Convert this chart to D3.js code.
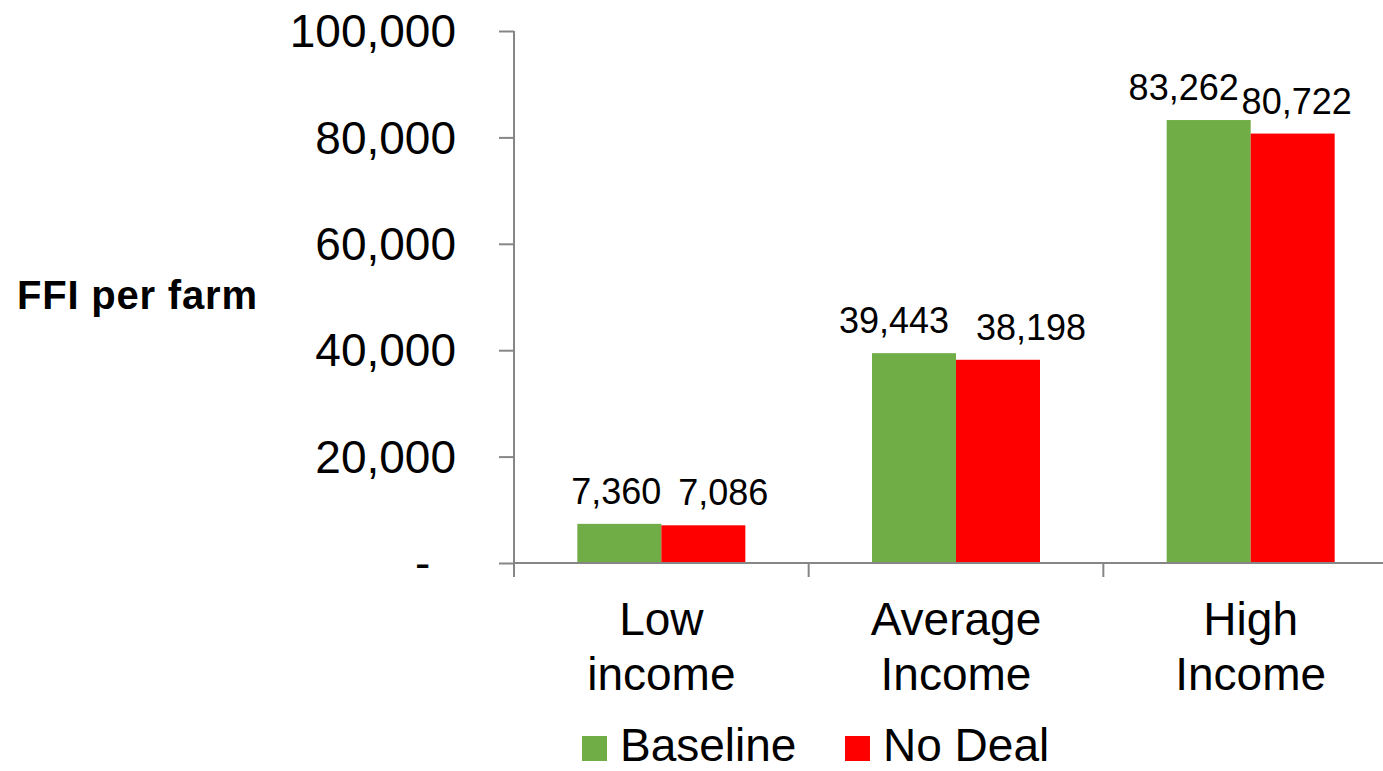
<!DOCTYPE html>
<html>
<head>
<meta charset="utf-8">
<script src="https://cdn.jsdelivr.net/npm/d3@7/dist/d3.min.js"></script>
<style>
  html, body { margin: 0; padding: 0; background: #fff; }
  svg { display: block; font-family: "Liberation Sans", Arial, Helvetica, sans-serif; }
</style>
</head>
<body>
<svg id="chart" width="1383" height="771"></svg>
<script>
// Farm family income per farm, by income group
const categories = [["Low", "income"], ["Average", "Income"], ["High", "Income"]];
const seriesNames = ["Baseline", "No Deal"];
const baseline = [7360, 39443, 83262];
const noDeal = [7086, 38198, 80722];
const yTicks = [0, 20000, 40000, 60000, 80000, 100000];
const yTitle = "FFI per farm";

const colors = { "Baseline": "#70AD47", "No Deal": "#FF0000" };
const axisColor = "#868686";

const svg = d3.select("#chart");
const W = 1383, H = 771;

const plot = { left: 514, top: 31, bottom: 563 };
const step = 294.67;
const catKeys = categories.map(c => c.join(" "));

const x0 = d3.scaleBand()
  .domain(catKeys)
  .range([plot.left, plot.left + step * catKeys.length])
  .padding(0);

const x1 = d3.scaleBand()
  .domain(seriesNames)
  .range([0, x0.bandwidth()])
  .paddingInner(0)
  .paddingOuter(0.754);

const y = d3.scaleLinear().domain([0, 100000]).range([plot.bottom, plot.top]);

const rows = catKeys.map((k, i) => ({
  key: k,
  values: [
    { series: "Baseline", value: baseline[i] },
    { series: "No Deal", value: noDeal[i] }
  ]
}));

// Bars
const groups = svg.append("g").selectAll("g")
  .data(rows).join("g")
  .attr("transform", d => `translate(${x0(d.key)},0)`);

groups.selectAll("rect")
  .data(d => d.values).join("rect")
  .attr("x", d => x1(d.series))
  .attr("y", d => y(d.value))
  .attr("width", x1.bandwidth())
  .attr("height", d => y(0) - y(d.value))
  .attr("fill", d => colors[d.series]);

// Value labels, nudged sideways so neighbouring labels don't collide
const labelShift = {
  "Baseline": [-3, -20, -25],
  "No Deal": [20, 33, 4]
};
const fmt = d3.format(",");
groups.each(function (row, ci) {
  d3.select(this).selectAll("text.val")
    .data(row.values).join("text")
    .attr("class", "val")
    .attr("x", d => x1(d.series) + x1.bandwidth() / 2 + labelShift[d.series][ci])
    .attr("y", d => y(d.value) - 20)
    .attr("text-anchor", "middle")
    .attr("font-size", 36)
    .attr("fill", "#000")
    .text(d => fmt(d.value));
});

// Y axis
const yAxis = d3.axisLeft(y)
  .tickValues(yTicks)
  .tickSize(15)
  .tickPadding(43)
  .tickFormat(d => d === 0 ? "-" : fmt(d));

const gy = svg.append("g")
  .attr("transform", `translate(${plot.left},0)`)
  .call(yAxis);
gy.select(".domain").attr("stroke", axisColor).attr("stroke-width", 2)
  .attr("d", `M0,${plot.top}V${plot.bottom}`);
gy.selectAll(".tick line").attr("stroke", axisColor).attr("stroke-width", 2);
gy.selectAll(".tick text")
  .attr("font-size", 46)
  .attr("font-family", "'Liberation Sans', Arial, sans-serif")
  .attr("fill", "#000")
  .attr("dy", "0.34em")
  .attr("dx", d => d === 0 ? "-0.556em" : 0);

// X axis: baseline and category separators
const gx = svg.append("g");
gx.append("line")
  .attr("x1", plot.left).attr("x2", W)
  .attr("y1", plot.bottom).attr("y2", plot.bottom)
  .attr("stroke", axisColor).attr("stroke-width", 2);

const sepX = catKeys.map(k => x0(k)).concat([x0(catKeys[catKeys.length - 1]) + x0.bandwidth()]);
gx.selectAll("line.sep")
  .data(sepX).join("line")
  .attr("class", "sep")
  .attr("x1", d => d).attr("x2", d => d)
  .attr("y1", plot.bottom).attr("y2", plot.bottom + 14)
  .attr("stroke", axisColor).attr("stroke-width", 2);

// Category labels (two lines each)
const catLabels = gx.selectAll("text.cat")
  .data(categories).join("text")
  .attr("class", "cat")
  .attr("text-anchor", "middle")
  .attr("font-size", 46)
  .attr("fill", "#000");
catLabels.each(function (lines, i) {
  const cx = x0(catKeys[i]) + x0.bandwidth() / 2;
  d3.select(this).selectAll("tspan")
    .data(lines).join("tspan")
    .attr("x", cx)
    .attr("y", (d, j) => 635 + j * 55)
    .text(d => d);
});

// Y title
svg.append("text")
  .attr("x", 17).attr("y", 309)
  .attr("font-size", 40)
  .attr("font-weight", "bold")
  .attr("letter-spacing", 0.8)
  .attr("fill", "#000")
  .text(yTitle);

// Legend
const legendPos = [582, 845];
const legend = svg.append("g").selectAll("g")
  .data(seriesNames).join("g")
  .attr("transform", (d, i) => `translate(${legendPos[i]},736)`);
legend.append("rect")
  .attr("width", 25).attr("height", 25)
  .attr("fill", d => colors[d]);
legend.append("text")
  .attr("x", 38).attr("y", 25)
  .attr("font-size", 46)
  .attr("fill", "#000")
  .text(d => d);
</script>
</body>
</html>
